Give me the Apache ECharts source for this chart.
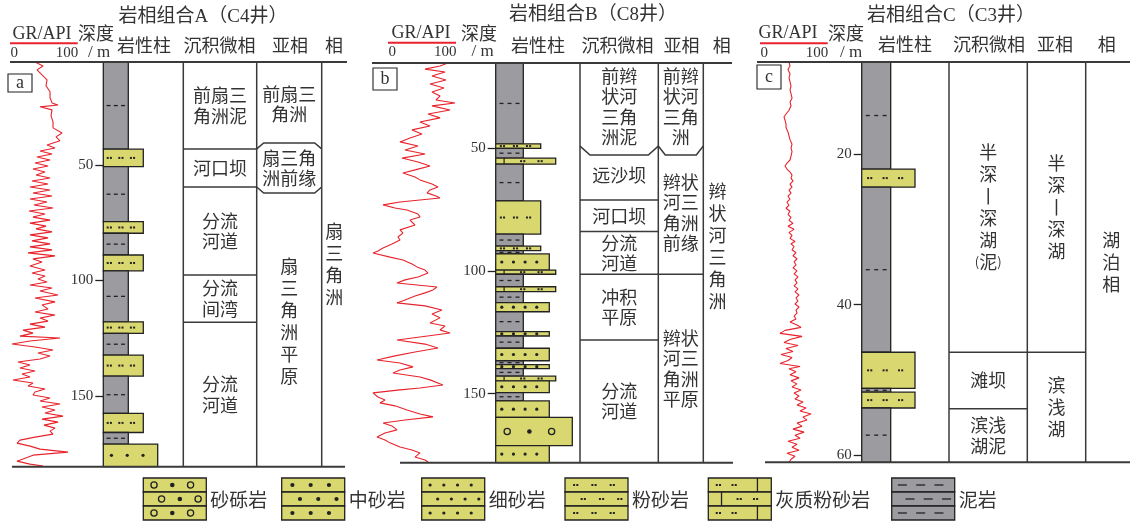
<!DOCTYPE html>
<html>
<head>
<meta charset="utf-8">
<script src="https://cdn.jsdelivr.net/npm/echarts@6/dist/echarts.min.js"></script>
<style>
  html, body { margin: 0; padding: 0; background: #ffffff; }
  #chart { width: 1130px; height: 521px; }
</style>
</head>
<body>
<div id="chart"></div>
<script>
// ---------- 岩相组合A（C4井） ----------
const a_depthRange = [5.5, 180.6];
const a_depthTicks = [50, 100, 150];
const a_grDepth = [5.5,7.2,8.9,11.1,13.2,15.8,18.4,21.0,23.2,24.1,24.9,26.2,28.8,31.4,34.0,36.2,37.9,39.6,41.4,42.7,
  44.0,45.3,46.6,47.9,49.2,50.5,51.8,53.1,54.4,55.7,57.0,58.3,59.6,60.9,62.2,63.5,64.8,66.1,67.4,68.7,
  70.0,71.3,72.6,73.9,75.2,76.5,77.7,79.0,80.3,81.6,82.9,84.2,85.5,86.8,88.1,89.4,90.7,92.0,93.8,95.5,
  96.8,98.1,99.4,100.7,102.0,103.3,104.6,106.3,107.6,109.3,110.6,112.4,113.7,115.0,116.3,117.6,118.9,120.2,121.5,122.8,
  124.1,124.9,126.2,127.5,128.8,130.1,131.4,132.7,134.0,135.3,136.6,137.9,139.2,140.5,141.8,143.1,144.4,145.7,147.0,148.3,
  149.6,150.9,152.2,153.5,154.8,156.1,157.4,158.7,160.0,161.3,162.6,163.9,165.2,166.5,167.8,169.1,170.4,171.7,173.0,174.3,
  175.6,176.9,178.2,179.5,180.3];
const a_grValue = [37.5,49.5,40.5,48,55.5,54,60,60,63,72,45,63,61.5,64.5,64.5,78,69,75,55.5,67.5,
  45,63,40.5,60,37.5,57,34.5,52.5,39,60,33,57,30,60,34.5,63,30,55.5,36,64.5,
  28.5,52.5,34.5,60,30,54,39,63,30,57,33,60,30,63,27,67.5,34.5,48,30,52.5,
  33,52.5,42,55.5,30,63,45,72,37.5,67.5,48,57,37.5,67.5,45,57,30,52.5,19.5,34.5,
  15,75,30,3,37.5,64.5,42,60,45,12,30,15,37.5,18,30,4.5,34.5,27,52.5,37.5,
  34.5,60,45,75,48,67.5,52.5,79.5,48,72,51,67.5,60,64.5,37.5,15,10.5,30,45,87,
  34.5,22.5,10.5,30,49.5];
const a_lithBounds = [5.5, 43.2, 50.8, 74.6, 79.6, 89.0, 95.9, 117.9, 122.9, 132.3, 141.4, 157.5, 165.8, 170.8, 180.6];
const a_lithTypes = ['mud','silt','mud','silt','mud','silt','mud','silt','mud','silt','mud','silt','mud','fine'];
const a_microBounds = [5.5, 43.1, 59.6, 97.7, 118.1, 180.6];
const a_microNames = ['前扇三\n角洲泥', '河口坝', '分流\n河道', '分流\n间湾', '分流\n河道'];
const a_subBounds = [5.5, 43.1, 59.6, 180.6];
const a_subNames = ['前扇三\n角洲', '扇三角\n洲前缘', '扇\n三\n角\n洲\n平\n原'];
const a_faciesBounds = [5.5, 180.6];
const a_faciesNames = ['扇\n三\n角\n洲'];

// ---------- 岩相组合B（C8井） ----------
const b_depthRange = [15.1, 178.2];
const b_depthTicks = [50, 100, 150];
const b_grDepth = [15.1,16.3,17.6,18.8,20.4,22.0,23.7,25.3,26.9,28.6,30.2,31.4,32.6,34.3,35.9,37.5,39.2,40.8,42.4,44.1,
  45.7,47.3,49.0,50.6,52.2,53.9,55.5,57.1,58.4,60.0,61.6,62.8,64.5,65.7,66.9,68.1,69.4,70.2,71.8,73.0,
  74.3,75.1,76.7,77.9,79.2,80.0,81.2,82.0,83.2,84.5,86.1,87.3,89.0,90.6,91.8,92.6,94.3,95.5,97.1,98.3,
  99.6,100.8,102.4,103.6,104.9,106.5,107.7,108.9,110.2,111.8,113.0,114.2,115.9,117.5,119.1,121.2,122.4,124.0,125.3,126.9,
  128.1,129.8,131.4,133.0,134.6,136.3,137.5,139.1,140.4,141.6,143.2,144.4,146.5,147.7,148.5,149.7,151.4,152.6,153.8,155.0,
  156.7,158.3,159.5,160.8,162.0,163.2,164.8,166.1,167.7,168.9,170.1,171.8,173.0,174.2,175.9,177.1,177.9];
const b_grValue = [91.6,81.9,63.9,88.0,72.3,89.2,69.9,86.7,72.3,81.9,77.1,100,72.3,94.0,67.5,81.9,57.8,69.9,48.2,60.2,
  45.8,33.7,55.4,39.8,63.9,36.1,55.4,69.9,55.4,37.3,51.8,57.8,72.3,79.5,69.9,66.3,77.1,81.9,33.7,13.3,
  27.7,42.2,55.4,57.8,45.8,43.4,51.8,49.4,33.7,37.3,31.3,33.7,24.1,13.3,7.2,1.2,21.7,37.3,48.2,54.2,
  63.9,67.5,55.4,39.8,30.1,78.3,73.5,63.9,51.8,39.8,30.1,63.9,84.3,72.3,81.9,69.9,88.0,81.9,94.0,57.8,
  30.1,63.9,79.5,51.8,27.7,6.0,33.7,49.4,33.7,25.3,57.8,69.9,85.5,57.8,33.7,1.2,7.2,15.7,9.6,27.7,
  42.2,57.8,73.5,39.8,13.3,24.1,30.1,15.7,6.0,15.7,21.7,33.7,48.2,57.8,51.8,63.9,67.5];
const b_lithBounds = [15.1, 48.1, 49.9, 53.9, 56.4, 71.4, 84.9, 89.8, 91.7, 93.0, 99.6, 101.3, 106.4, 108.4, 112.9,
  116.6, 124.7, 126.5, 131.5, 136.6, 138.2, 139.8, 142.9, 144.8, 149.6, 153.0, 159.7, 171.2, 178.2];
const b_lithTypes = ['mud','silt','mud','calc','mud','silt','mud','silt','mud','fine','calc','mud','calc','mud',
  'fine','mud','fine','mud','fine','mud','fine','mud','calc','fine','mud','fine','gravel','fine'];
const b_microBounds = [15.1, 49.0, 71.0, 83.9, 101.3, 128.1, 178.2];
const b_microNames = ['前辫\n状河\n三角\n洲泥', '远沙坝', '河口坝', '分流\n河道', '冲积\n平原', '分流\n河道'];
const b_subBounds = [15.1, 49.0, 101.3, 178.2];
const b_subNames = ['前辫\n状河\n三角\n洲', '辫状\n河三\n角洲\n前缘', '辫状\n河三\n角洲\n平原'];
const b_faciesBounds = [15.1, 178.2];
const b_faciesNames = ['辫\n状\n河\n三\n角\n洲'];

// ---------- 岩相组合C（C3井） ----------
const c_depthRange = [7.8, 60.9];
const c_depthTicks = [20, 40, 60];
const c_grDepth = [7.8,8.3,8.8,9.4,9.9,10.4,11.0,11.5,12.0,12.6,13.1,13.6,14.2,14.7,15.1,15.5,16.0,16.5,17.1,17.6,
  18.1,18.7,19.2,19.7,20.3,20.8,21.2,21.6,22.0,22.4,22.8,23.2,23.6,24.0,24.4,24.8,25.2,25.6,26.0,26.4,
  26.8,27.2,27.6,28.0,28.4,28.8,29.2,29.6,30.0,30.4,30.8,31.2,31.6,31.9,32.3,32.7,33.1,33.5,33.9,34.3,
  34.7,35.1,35.5,35.9,36.3,36.7,37.1,37.5,37.9,38.3,38.7,39.1,39.5,39.9,40.3,40.7,41.1,41.5,41.9,42.3,
  42.7,43.0,43.4,43.8,44.2,44.6,45.0,45.4,45.8,46.2,46.6,47.0,47.4,47.8,48.2,48.5,48.9,49.3,49.7,50.1,
  50.5,50.9,51.3,51.7,52.1,52.5,52.9,53.3,53.7,54.1,54.5,54.9,55.3,55.7,56.1,56.5,56.9,57.3,57.7,58.1,
  58.5,58.9,59.3,59.7,60.1,60.5,60.9];
const c_grValue = [43.5,45,42,45,43.5,45,46.5,45,46.5,48,45,46.5,43.5,39,36,37.5,39,39,42,43.5,
  45,48,46.5,48,46.5,45,40.5,37.5,40.5,45,48,46.5,49.5,45,48,43.5,46.5,42,45,40.5,
  43.5,39,45,42,46.5,43.5,49.5,42,51,43.5,48,45,52.5,46.5,51,48,54,49.5,55.5,51,
  54,49.5,55.5,51,57,52.5,55.5,51,57,52.5,58.5,54,57,52.5,58.5,54,55.5,51,54,45,
  55.5,61.5,37.5,30,63,45,36,57,39,49.5,31.5,48,42,30,60,43.5,54,45,58.5,46.5,
  55.5,48,61.5,51,58.5,52.5,64.5,55.5,69,60,76.5,64.5,70.5,55.5,63,49.5,66,52.5,60,42,
  55.5,48,58.5,40.5,52.5,46.5,43.5];
const c_lithBounds = [7.8, 22.0, 24.4, 46.3, 51.1, 51.6, 53.7, 60.9];
const c_lithTypes = ['mud','silt','mud','silt','mud','silt','mud'];
const c_microBounds = [7.8, 46.3, 53.8, 60.9];
const c_microNames = ['半\n深\n丨\n深\n湖\n(泥)', '滩坝', '滨浅\n湖泥'];
const c_subBounds = [7.8, 46.3, 60.9];
const c_subNames = ['半\n深\n丨\n深\n湖', '滨\n浅\n湖'];
const c_faciesBounds = [7.8, 60.9];
const c_faciesNames = ['湖\n泊\n相'];

// ---------- header & legend text ----------
const panelKeys = ['a', 'b', 'c'];
const panelTitles = ['岩相组合A（C4井）', '岩相组合B（C8井）', '岩相组合C（C3井）'];
const columnHeads = ['岩性柱', '沉积微相', '亚相', '相'];
const grScaleName = 'GR/API';
const grScaleTicks = [0, 100];
const depthHead = ['深度', '/ m'];
const legendTypes = ['gravel', 'medium', 'fine', 'silt', 'calc', 'mud'];
const legendNames = ['砂砾岩', '中砂岩', '细砂岩', '粉砂岩', '灰质粉砂岩', '泥岩'];

// ---------- drawing styles and layout (pixels) ----------
const YELLOW = '#d9d76f', GREY = '#9b9ba0', INK = '#222222', RULE = '#3a3a3a', TXT = '#333333', RED = '#e8232b';
const CJK = '"Noto Sans CJK SC", sans-serif';
const SERIF = '"Liberation Serif", "Noto Sans CJK SC", serif';

const LAYOUT = {
  a: { top: 62, bottom: 466.7, grLeft: 10, grRight: 76.7, colLeft: 103.3,
       cols: [183.3, 256.7, 321.7, 347], headFrom: 10, headTo: 347, footFrom: 12, footTo: 345,
       widths: { mud: 25, silt: 40, fine: 54.4 }, marks: { mud: 3, silt: 3, fine: 3 },
       bulge: [[], [0, -6, 6, 0], []], chamfer: [9, 7, 7], textShift: [[], [0, 0, -7], []],
       title: [203, 17], grLabel: [42, 34], grLineY: 43.3, grTickY: 53, depth: [96, 33, 99, 53],
       headY: 45, headX: [144, 219.5, 290, 334], tag: [8, 74, 24, 18] },
  b: { top: 63, bottom: 462.7, grLeft: 372, grRight: 455, colLeft: 495.7,
       cols: [580, 658.3, 703.3, 731.7], headFrom: 372, headTo: 732, footFrom: 400, footTo: 733,
       widths: { mud: 27.6, silt: 45, fine: 53.6, calc: 60, gravel: 76.6 },
       marks: { mud: 3, silt: 3, fine: 4, calc: 2, gravel: 3 },
       bulge: [[0, 9], [0, 9], []], chamfer: [10, 7, 7], textShift: [[], [], [-17]],
       grScale: [388, 455],
       title: [593, 15], grLabel: [421, 33], grLineY: 42.7, grTickY: 52, depth: [479, 33, 482.5, 52],
       headY: 45, headX: [538, 617.5, 681.5, 721.7], tag: [373, 68, 24, 22] },
  c: { top: 62, bottom: 462.3, grLeft: 760, grRight: 826.7, colLeft: 861.7,
       cols: [949, 1027.3, 1085.7, 1137], headFrom: 757, headTo: 1130, footFrom: 765, footTo: 1130,
       widths: { mud: 29, silt: 53.3 }, marks: { mud: 3, silt: 3 },
       bulge: [[], [], []], chamfer: [9, 7, 7], textShift: [[], [], []],
       title: [951, 16], grLabel: [788, 33], grLineY: 43.3, grTickY: 53, depth: [846, 33, 851, 53],
       headY: 44.3, headX: [905, 989, 1055, 1106.7], tag: [757, 65, 24, 24] }
};

const WELLS = {
  a: { range: a_depthRange, ticks: a_depthTicks, grDepth: a_grDepth, grValue: a_grValue,
       lithBounds: a_lithBounds, lithTypes: a_lithTypes,
       columns: [[a_microBounds, a_microNames], [a_subBounds, a_subNames], [a_faciesBounds, a_faciesNames]] },
  b: { range: b_depthRange, ticks: b_depthTicks, grDepth: b_grDepth, grValue: b_grValue,
       lithBounds: b_lithBounds, lithTypes: b_lithTypes,
       columns: [[b_microBounds, b_microNames], [b_subBounds, b_subNames], [b_faciesBounds, b_faciesNames]] },
  c: { range: c_depthRange, ticks: c_depthTicks, grDepth: c_grDepth, grValue: c_grValue,
       lithBounds: c_lithBounds, lithTypes: c_lithTypes,
       columns: [[c_microBounds, c_microNames], [c_subBounds, c_subNames], [c_faciesBounds, c_faciesNames]] }
};

// ---------- lithology symbol helpers ----------
function line(x1, y1, x2, y2, w, color) {
  return { type: 'line', shape: { x1, y1, x2, y2 }, style: { stroke: color || INK, lineWidth: w || 1.2 }, silent: true };
}
function box(x, y, w, h, fill, lw) {
  return { type: 'rect', shape: { x, y, width: w, height: h }, style: { fill, stroke: INK, lineWidth: lw || 1.3 }, silent: true };
}
function dot(cx, cy, r) {
  return { type: 'circle', shape: { cx, cy, r }, style: { fill: INK }, silent: true };
}
function ring(cx, cy, r) {
  return { type: 'circle', shape: { cx, cy, r }, style: { fill: 'none', stroke: INK, lineWidth: 1.3 }, silent: true };
}
function dotPair(cx, cy) {
  return [
    { type: 'rect', shape: { x: cx - 2.6, y: cy - 1, width: 2, height: 2 }, style: { fill: INK }, silent: true },
    { type: 'rect', shape: { x: cx + 0.6, y: cy - 1, width: 2, height: 2 }, style: { fill: INK }, silent: true }
  ];
}
// relative x positions of n marks spread across a bed
function spread(n, shift) {
  const step = 0.87 / n;
  const start = 0.5 * (1 - step * (n - 1)) - 0.06 + (shift || 0);
  return Array.from({ length: n }, (_, i) => start + i * step);
}
function rowMarks(type, x, w, cy, n, shift, dashLen) {
  const out = [];
  spread(n, shift).forEach((f, i) => {
    const px = x + f * w;
    if (type === 'mud') out.push(line(px - dashLen / 2, cy, px + dashLen / 2, cy, 1.3));
    else if (type === 'silt') out.push(...dotPair(px, cy));
    else if (type === 'fine') out.push(dot(px, cy, 1.6));
    else if (type === 'medium') out.push(dot(px, cy, 2.1));
    else if (type === 'gravel') out.push(i % 2 ? dot(px, cy, 2.3) : ring(px, cy, 3.1));
  });
  return out;
}
function bedShapes(type, x, y, w, h, n) {
  const out = [box(x, y, w, h, type === 'mud' ? GREY : YELLOW)];
  const cy = y + h / 2;
  if (type === 'calc') {
    out.push(line(x + 0.14 * w, y, x + 0.14 * w, y + h, 1.2));
    [0.45, 0.74].forEach(f => out.push(...dotPair(x + f * w, cy)));
  } else if (type !== 'mud' || h >= 3) {
    out.push(...rowMarks(type, x, w, cy, n, type === 'mud' ? 0.06 : 0, 4));
  }
  return out;
}
const LEGEND_MARKS = { gravel: 3, medium: 3, fine: 4, silt: 3, mud: 3 };
function swatch(type, x, y, w, h) {
  const rh = h / 3, out = [];
  for (let r = 0; r < 3; r++) {
    const ry = y + r * rh, cy = ry + rh / 2, odd = r === 1;
    out.push(box(x, ry, w, rh, type === 'mud' ? GREY : YELLOW));
    if (type === 'calc') {
      const seam = odd ? 0.21 : 0.78;
      out.push(line(x + seam * w, ry, x + seam * w, ry + rh, 1.3));
      (odd ? [0.49, 0.75] : [0.16, 0.41]).forEach(f => out.push(...dotPair(x + f * w, cy)));
    } else {
      out.push(...rowMarks(type, x, w, cy, LEGEND_MARKS[type], odd ? 0.14 : 0.02, 9));
    }
  }
  return out;
}
function label(text, x, y, font, align, extra) {
  return Object.assign({ type: 'text', x, y, silent: true,
    style: { text, font, fill: TXT, align: align || 'center', verticalAlign: 'middle' } }, extra || {});
}

// ---------- build option ----------
const grids = [], xAxes = [], yAxes = [], series = [], graphics = [];

panelKeys.forEach((key, p) => {
  const L = LAYOUT[key], W = WELLS[key];
  const gGR = p * 2, gMain = p * 2 + 1;
  const height = L.bottom - L.top;
  grids.push({ left: L.grLeft, top: L.top, width: L.grRight - L.grLeft, height });
  grids.push({ left: L.colLeft, top: L.top, width: L.cols[3] - L.colLeft, height });
  xAxes.push({ gridIndex: gGR, type: 'value', min: 0, max: 100, show: false });
  xAxes.push({ gridIndex: gMain, type: 'value', min: 0, max: 1, show: false });
  yAxes.push({ gridIndex: gGR, type: 'value', inverse: true, min: W.range[0], max: W.range[1], show: false });
  yAxes.push({
    gridIndex: gMain, type: 'value', inverse: true, min: W.range[0], max: W.range[1], position: 'left',
    axisLine: { show: false }, splitLine: { show: false },
    axisTick: { show: true, length: 8, lineStyle: { color: INK, width: 1.3 }, customValues: W.ticks },
    axisLabel: { show: true, customValues: W.ticks, margin: 10, color: TXT, fontFamily: SERIF, fontSize: 15 }
  });

  // gamma-ray curve
  series.push({
    type: 'line', xAxisIndex: gGR, yAxisIndex: gGR, silent: true, clip: false, z: 3,
    data: W.grDepth.map((d, i) => [W.grValue[i], d]),
    showSymbol: false, symbol: 'none', lineStyle: { color: RED, width: 1.1 }
  });

  // frame: header rule, base rule and column dividers
  series.push({
    type: 'custom', xAxisIndex: gMain, yAxisIndex: gMain, silent: true, z: 4,
    data: [[0, W.range[0], W.range[1]]], encode: { x: 0, y: [1, 2] },
    renderItem(params, api) {
      const yT = api.coord([0, api.value(1)])[1], yB = api.coord([0, api.value(2)])[1];
      const kids = [line(L.headFrom, yT, L.headTo, yT, 2, RULE), line(L.footFrom, yB, L.footTo, yB, 2, RULE)];
      for (let i = 0; i < 3; i++) kids.push(line(L.cols[i], yT, L.cols[i], yB, 1.5, RULE));
      return { type: 'group', children: kids };
    }
  });

  // lithology column
  series.push({
    type: 'custom', xAxisIndex: gMain, yAxisIndex: gMain, silent: true, z: 3,
    data: W.lithTypes.map((t, i) => [0, W.lithBounds[i], W.lithBounds[i + 1]]), encode: { x: 0, y: [1, 2] },
    renderItem(params, api) {
      const t = W.lithTypes[params.dataIndex];
      const y0 = api.coord([0, api.value(1)])[1], y1 = api.coord([0, api.value(2)])[1];
      return { type: 'group', children: bedShapes(t, params.coordSys.x, y0, L.widths[t], y1 - y0, L.marks[t]) };
    }
  });

  // sedimentary micro-facies, sub-facies and facies cells
  const cells = [];
  W.columns.forEach(([bounds, names], ci) => names.forEach((name, i) =>
    cells.push({ ci, i, name, top: bounds[i], bot: bounds[i + 1] })));
  series.push({
    type: 'custom', xAxisIndex: gMain, yAxisIndex: gMain, silent: true, z: 4,
    data: cells.map(c => [0, c.top, c.bot]), encode: { x: 0, y: [1, 2] },
    renderItem(params, api) {
      const c = cells[params.dataIndex];
      const x0 = L.cols[c.ci], x1 = L.cols[c.ci + 1];
      const yT = api.coord([0, api.value(1)])[1], yB = api.coord([0, api.value(2)])[1];
      const bg = L.bulge[c.ci] || [];
      const bT = bg[c.i] || 0, bB = bg[c.i + 1] || 0, ch = L.chamfer[c.ci];
      const kids = [];
      if (c.i > 0) {
        const pts = bT ? [[x0, yT], [x0 + ch, yT + bT], [x1 - ch, yT + bT], [x1, yT]] : [[x0, yT], [x1, yT]];
        kids.push({ type: 'polyline', shape: { points: pts }, style: { stroke: RULE, lineWidth: 1.5, fill: null } });
      }
      const shift = (L.textShift[c.ci] || [])[c.i] || 0;
      const cy = (yT + bT / 2 + yB + bB / 2) / 2 + shift;
      const lines = c.name.split('\n');
      const vertical = lines.every(s => s.length <= 1 || /^\(.\)$/.test(s));
      const text = c.name.replace(/\((.)\)/, '{p|(}$1{p|)}');
      kids.push({ type: 'text', x: (x0 + x1) / 2, y: cy, silent: true,
        style: { text, fill: TXT, font: '18px ' + CJK, align: 'center', verticalAlign: 'middle',
                 lineHeight: vertical ? 22 : 20.5,
                 rich: { p: { fontSize: 13, fontFamily: CJK, fill: TXT, lineHeight: 22 } } } });
      return { type: 'group', children: kids };
    }
  });

  // header block
  graphics.push(label(panelTitles[p], L.title[0], L.title[1], '19px ' + SERIF));
  graphics.push(label(grScaleName, L.grLabel[0], L.grLabel[1], '18px ' + SERIF));
  const scale = L.grScale || [L.grLeft, L.grRight];
  graphics.push(line(scale[0], L.grLineY, scale[1] + 1, L.grLineY, 2, RED));
  graphics.push(label(String(grScaleTicks[0]), scale[0] + 0.5, L.grTickY, '15px ' + SERIF, 'left'));
  graphics.push(label(String(grScaleTicks[1]), scale[1] + 1.5, L.grTickY, '15px ' + SERIF, 'right'));
  graphics.push(label(depthHead[0], L.depth[0], L.depth[1], '18px ' + CJK));
  graphics.push(label(depthHead[1], L.depth[2], L.depth[3], '17px ' + SERIF));
  columnHeads.forEach((h, i) => graphics.push(label(h, L.headX[i], L.headY, '18px ' + CJK)));
  const t = L.tag;
  graphics.push({ type: 'rect', shape: { x: t[0], y: t[1], width: t[2], height: t[3] },
    style: { fill: '#ffffff', stroke: INK, lineWidth: 1.1 }, silent: true, z: 10 });
  graphics.push(label(key, t[0] + t[2] / 2, t[1] + t[3] / 2, '18px ' + SERIF, 'center', { z: 11 }));
});

// lithology legend
const LEGEND_X = [143.3, 281.7, 421.7, 565, 708.3, 891.7];
legendTypes.forEach((type, i) => {
  graphics.push({ type: 'group', silent: true, children: swatch(type, LEGEND_X[i], 478, 63, 42) });
  graphics.push(label(legendNames[i], LEGEND_X[i] + 67, 500, '19px ' + CJK, 'left'));
});

const chart = echarts.init(document.getElementById('chart'), null, { renderer: 'canvas' });
chart.setOption({
  animation: false,
  backgroundColor: '#ffffff',
  grid: grids,
  xAxis: xAxes,
  yAxis: yAxes,
  series,
  graphic: { elements: graphics }
});
</script>
</body>
</html>
